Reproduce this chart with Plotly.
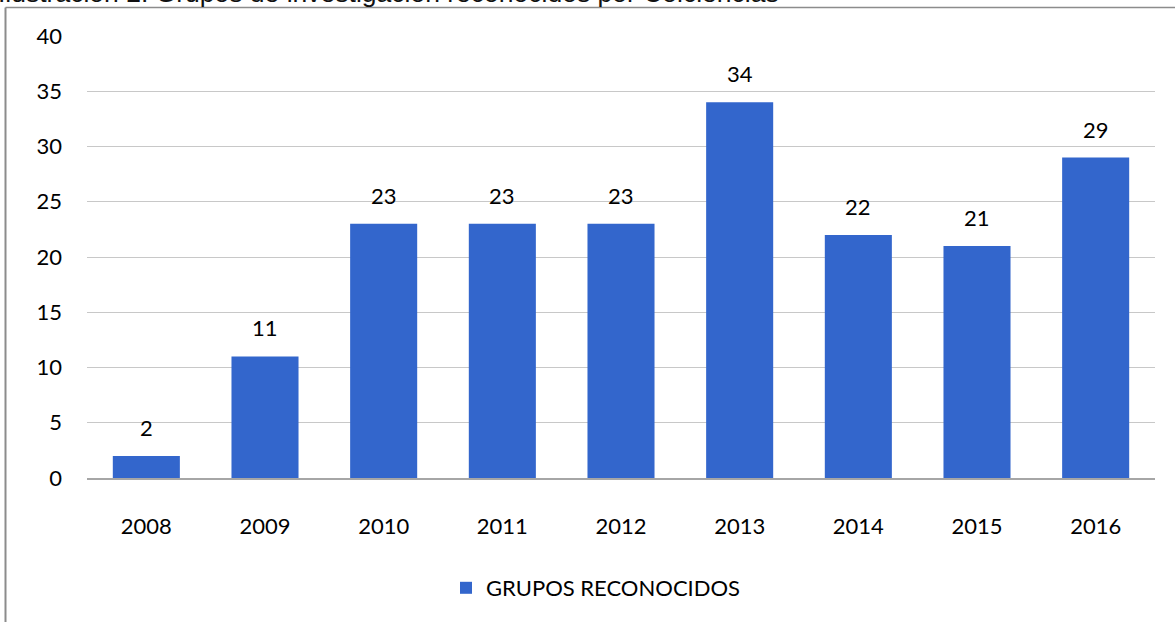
import plotly.graph_objects as go

years = ["2008", "2009", "2010", "2011", "2012", "2013", "2014", "2015", "2016"]
grupos = [2, 11, 23, 23, 23, 34, 22, 21, 29]
series_name = "GRUPOS RECONOCIDOS"
caption = "Ilustración 2. Grupos de investigación reconocidos por Colciencias"

W, H = 1175, 622
ml, mr, mt, mb = 87, 20, 36, 144
pw, ph = W - ml - mr, H - mt - mb

def px_x(p):
    return (p - ml) / pw

def px_y(p):
    return (H - mb - p) / ph

font_family = "Lato, 'Open Sans', sans-serif"
fs = 22

fig = go.Figure()
fig.add_trace(go.Bar(
    x=years, y=grupos, name=series_name,
    marker=dict(color="#3366CC", line=dict(width=0)),
    showlegend=True,
))

for i, v in enumerate(grupos):
    fig.add_annotation(x=i, y=v, text=str(v), showarrow=False,
                       yanchor="bottom", yshift=13,
                       font=dict(size=fs, color="#000000", family=font_family))

# caption (clipped at top)
fig.add_annotation(xref="paper", yref="paper", x=px_x(-4), y=px_y(10),
                   xanchor="left", yanchor="bottom", text=caption, showarrow=False,
                   font=dict(size=26.5, color="#111111", family="Liberation Sans, Arial, sans-serif"))

# frame
bx, by = px_x(5.5), px_y(7.5)
fig.add_shape(type="line", xref="paper", yref="paper", x0=bx, x1=bx, y0=by, y1=px_y(640),
              line=dict(color="#8c8c8c", width=2))
fig.add_shape(type="line", xref="paper", yref="paper", x0=bx, x1=px_x(1200), y0=by, y1=by,
              line=dict(color="#8c8c8c", width=1.5))

fig.update_layout(
    width=W, height=H,
    margin=dict(l=ml, r=mr, t=mt, b=mb),
    paper_bgcolor="white", plot_bgcolor="white",
    bargap=0.435,
    font=dict(family=font_family, size=fs, color="#000000"),
    legend=dict(orientation="h", x=px_x(596), xanchor="center", y=px_y(588), yanchor="middle",
                font=dict(size=fs, family=font_family)),
    xaxis=dict(type="category", range=[-0.5, len(years) - 0.5], showgrid=False, showline=True,
               linecolor="#a6a6a6", linewidth=1.5,
               ticks="", tickfont=dict(size=fs), ticklabelstandoff=28),
    yaxis=dict(range=[0, 40], dtick=5, showgrid=True, gridcolor="#c8c8c8", gridwidth=1.3,
               zeroline=False, showline=False, ticks="", tickfont=dict(size=fs),
               ticklabelstandoff=24),
)

fig.write_html("out.html", config={"displayModeBar": False},
               post_script="document.body.style.margin='0';document.body.style.overflow='hidden';")
